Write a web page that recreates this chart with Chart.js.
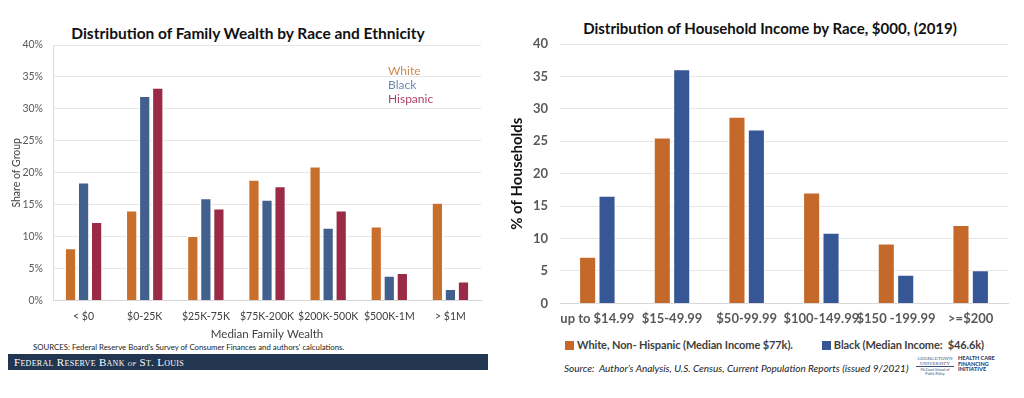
<!DOCTYPE html>
<html>
<head>
<meta charset="utf-8">
<script src="https://cdn.jsdelivr.net/npm/chart.js@4.4.0/dist/chart.umd.min.js"></script>
<style>
  body { margin: 0; background: #fff; width: 1024px; height: 398px; position: relative; overflow: hidden; font-family: Lato, "Open Sans", sans-serif; }
  .box { position: absolute; }
  .title { position: absolute; font-weight: bold; color: #111; white-space: nowrap; transform: translate(-50%, -50%); }
  #leftLegend { position: absolute; left: 388px; top: 64px; font-size: 12px; line-height: 14px; }
  #sources { position: absolute; left: 33px; top: 342px; font-size: 7.8px; color: #222; white-space: nowrap; }
  #banner { position: absolute; left: 8px; top: 354px; width: 480px; height: 16px; background: #233651; color: #fff;
            font-family: "Liberation Serif", serif; font-variant: small-caps; font-size: 11px; line-height: 16px; padding-left: 6px; box-sizing: border-box; letter-spacing: 0.3px; }
  #rightLegend { position: absolute; left: 565px; top: 338px; font-size: 11px; font-weight: bold; color: #404040; white-space: nowrap; letter-spacing: -0.1px; }
  #rightLegend span.sq { display: inline-block; width: 9px; height: 9px; margin-right: 3px; vertical-align: -1px; }
  #source2 { position: absolute; left: 564px; top: 362px; font-size: 10px; font-style: italic; color: #222; white-space: nowrap; }
  #logo { position: absolute; left: 916px; top: 356px; width: 90px; height: 18px; }
  #logo .gu { position: absolute; left: 0; top: 0; width: 38px; font-family: "Liberation Serif", serif; font-size: 5px; line-height: 5px; color: #3a4f7a; text-align: center; border-bottom: 0.5px solid #3a4f7a; }
  #logo .gu2 { position: absolute; left: 0; top: 12px; width: 38px; font-size: 3.5px; color: #3a4f7a; text-align: center; }
  #logo .hc { position: absolute; left: 42px; top: 0; font-size: 5.5px; line-height: 5.5px; font-weight: 900; color: #2b3f73; }
</style>
</head>
<body>
<div class="title" style="left:248px; top:33px; font-size:15.5px;">Distribution of Family Wealth by Race and Ethnicity</div>
<div class="box" style="left:0px; top:18px; width:492px; height:323px;"><canvas id="wealth"></canvas></div>
<div id="leftLegend">
  <div style="color:#d08a4f">White</div>
  <div style="color:#6f88ad">Black</div>
  <div style="color:#a94563">Hispanic</div>
</div>
<div id="sources">SOURCES: Federal Reserve Board's Survey of Consumer Finances and authors' calculations.</div>
<div id="banner">Federal Reserve Bank <i style="font-size:9px">of</i> St. Louis</div>

<div class="title" style="left:770px; top:28px; font-size:15px;">Distribution of Household Income by Race, $000, (2019)</div>
<div class="box" style="left:508px; top:12px; width:516px; height:323px;"><canvas id="income"></canvas></div>
<div id="rightLegend"><span class="sq" style="background:#c5692a"></span>White, Non- Hispanic (Median Income $77k).<span style="display:inline-block;width:29px"></span><span class="sq" style="background:#365695"></span>Black (Median Income:&nbsp; $46.6k)</div>
<div id="source2">Source:&nbsp; Author’s Analysis, U.S. Census, Current Population Reports (issued 9/2021)</div>
<div id="logo">
  <div class="gu">GEORGETOWN<br>UNIVERSITY</div>
  <div class="gu2">McCourt School of Public Policy</div>
  <div class="hc">HEALTH CARE<br>FINANCING<br>INITIATIVE</div>
</div>

<script>
// left chart: family wealth, share of group (%)
const wealthCats = ["< $0", "$0-25K", "$25K-75K", "$75K-200K", "$200K-500K", "$500K-1M", "> $1M"];
const wealthWhite = [8.2, 14.1, 10.1, 18.9, 21.0, 11.6, 15.3];
const wealthBlack = [18.5, 32.0, 16.0, 15.8, 11.4, 3.9, 1.8];
const wealthHispanic = [12.3, 33.3, 14.4, 17.9, 14.1, 4.3, 3.0];
const wealthTicks = [0, 5, 10, 15, 20, 25, 30, 35, 40];

// right chart: household income, % of households
const incomeCats = ["up to $14.99", "$15-49.99", "$50-99.99", "$100-149.99", "$150 -199.99", ">=$200"];
const incomeWhite = [7.2, 25.6, 28.8, 17.1, 9.25, 12.1];
const incomeBlack = [16.6, 36.1, 26.8, 10.9, 4.4, 5.1];
const incomeTicks = [0, 5, 10, 15, 20, 25, 30, 35, 40];

Chart.defaults.font.family = "Lato, 'Open Sans', sans-serif";
Chart.defaults.animation = false;

let wealthChart = new Chart(document.getElementById("wealth"), {
  type: "bar",
  data: {
    labels: wealthCats,
    datasets: [
      { label: "White", data: wealthWhite, backgroundColor: "#c96f2c", borderColor: "#fff", borderWidth: 1 },
      { label: "Black", data: wealthBlack, backgroundColor: "#41608d", borderColor: "#fff", borderWidth: 1 },
      { label: "Hispanic", data: wealthHispanic, backgroundColor: "#9a2a45", borderColor: "#fff", borderWidth: 1 },
    ],
  },
  options: {
    responsive: true,
    maintainAspectRatio: false,
    categoryPercentage: 0.64,
    barPercentage: 0.86,
    layout: { padding: { top: 27, right: 11, bottom: 0 } },
    scales: {
      x: {
        grid: { display: false, drawTicks: false },
        border: { color: "#d9d9d9" },
        ticks: { color: "#404040", font: { size: 10.5 }, padding: 10, maxRotation: 0, autoSkip: false },
        title: { display: true, text: "Median Family Wealth", color: "#404040", font: { size: 11.5 }, padding: { top: -6, bottom: 0 } },
      },
      y: {
        min: 0,
        max: 40,
        afterBuildTicks: (s) => { s.ticks = wealthTicks.map((v) => ({ value: v })); },
        afterFit: (s) => { s.width = 53; },
        grid: { color: "#e6e6e6", drawTicks: false },
        border: { color: "#d9d9d9" },
        ticks: { color: "#595959", font: { size: 10.5 }, padding: 10, callback: (v) => v + "%" },
        title: { display: true, text: "Share of Group", color: "#404040", font: { size: 10.5 }, padding: { top: 10, bottom: 0 } },
      },
    },
    plugins: {
      legend: { display: false },
      tooltip: { enabled: false },
    },
  },
});

let incomeChart = new Chart(document.getElementById("income"), {
  type: "bar",
  data: {
    labels: incomeCats,
    datasets: [
      { label: "White, Non- Hispanic (Median Income $77k).", data: incomeWhite, backgroundColor: "#c5692a", borderColor: "#fff", borderWidth: 1 },
      { label: "Black (Median Income:  $46.6k)", data: incomeBlack, backgroundColor: "#365695", borderColor: "#fff", borderWidth: 1 },
    ],
  },
  options: {
    responsive: true,
    maintainAspectRatio: false,
    categoryPercentage: 0.52,
    barPercentage: 0.88,
    layout: { padding: { top: 32, right: 16 } },
    scales: {
      x: {
        grid: { display: false, drawTicks: false },
        border: { color: "#d9d9d9" },
        ticks: { color: "#595959", font: { size: 13, weight: "bold" }, padding: 8, maxRotation: 0, autoSkip: false },
      },
      y: {
        min: 0,
        max: 40,
        afterBuildTicks: (s) => { s.ticks = incomeTicks.map((v) => ({ value: v })); },
        afterFit: (s) => { s.width = 52; },
        grid: { color: "#e6e6e6", drawTicks: false },
        border: { display: false },
        ticks: { color: "#595959", font: { size: 13, weight: "bold" }, padding: 12 },
        title: { display: true, text: "% of Households", color: "#111", font: { size: 15, weight: "bold" }, padding: { top: 0, bottom: 0 } },
      },
    },
    plugins: {
      legend: { display: false },
      tooltip: { enabled: false },
    },
  },
});
</script>
</body>
</html>
